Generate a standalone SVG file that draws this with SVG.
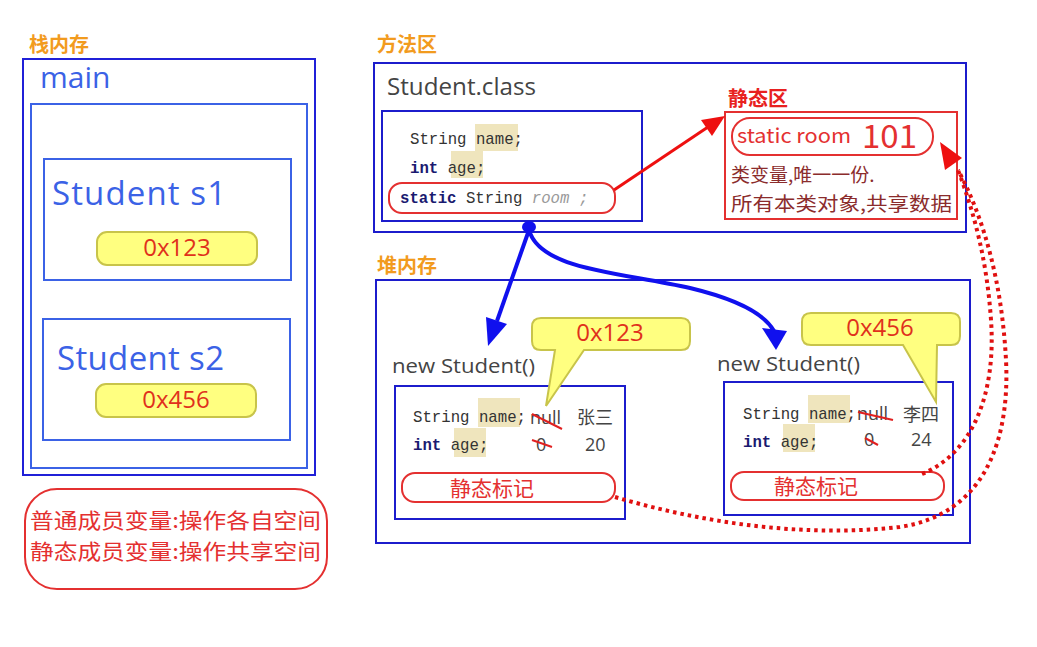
<svg xmlns="http://www.w3.org/2000/svg" width="1037" height="647" viewBox="0 0 1037 647">
<style>
.lbl{font-family:"Noto Sans CJK SC",sans-serif;font-weight:bold;font-size:20px;fill:#f29b1e}
.box{fill:none;stroke:#1c1ccc;stroke-width:2}
.sbox{fill:none;stroke:#3b62e6;stroke-width:2}
.stxt{font-family:"Open Sans","Noto Sans CJK SC",sans-serif;fill:#3b62e6}
.pill{fill:#ffff80;stroke:#c8c44a;stroke-width:2}
.addr{font-family:"Open Sans",sans-serif;font-size:24px;fill:#e0301c;text-anchor:middle}
.code{font-family:"Liberation Mono","DejaVu Sans Mono",monospace;font-size:15.7px;fill:#333}
.kw{font-weight:bold;fill:#1a1a70}
.it{font-style:italic;fill:#999}
.hl{fill:#efe5bd}
.gray{font-family:"Open Sans","Noto Sans CJK SC",sans-serif;fill:#444}
.rpill{fill:none;stroke:#e43030;stroke-width:2}
.rtxt{font-family:"Noto Sans CJK SC",sans-serif;fill:#e43030}
.strike{stroke:#e02020;stroke-width:2}
.dot{fill:none;stroke:#e01010;stroke-width:4;stroke-dasharray:3.5 4}
</style>

<g id="stack">
  <text class="lbl" x="29" y="52">栈内存</text>
  <rect x="23" y="59" width="292" height="416" fill="none" stroke="#2020d8" stroke-width="2"/>
  <text class="stxt" x="40" y="88" font-size="30">main</text>
  <rect class="sbox" x="31" y="104" width="276" height="364"/>
</g>
<g id="s1">
  <rect class="sbox" x="44" y="159" width="247" height="121"/>
  <text class="stxt" x="52" y="205" font-size="33" textLength="174" lengthAdjust="spacing">Student s1</text>
  <rect class="pill" x="97" y="232" width="160" height="33" rx="10"/>
  <text class="addr" x="177" y="256">0x123</text>
</g>
<g id="s2">
  <rect class="sbox" x="43" y="319" width="247" height="121"/>
  <text class="stxt" x="57" y="370" font-size="33" textLength="167" lengthAdjust="spacing">Student s2</text>
  <rect class="pill" x="96" y="384" width="160" height="33" rx="10"/>
  <text class="addr" x="176" y="408">0x456</text>
</g>
<g id="note">
  <rect x="25" y="489" width="302" height="100" rx="32" fill="none" stroke="#e43030" stroke-width="2"/>
  <text class="rtxt" x="30" y="528" font-size="21" textLength="291" lengthAdjust="spacingAndGlyphs">普通成员变量:操作各自空间</text>
  <text class="rtxt" x="30" y="559" font-size="21" textLength="291" lengthAdjust="spacingAndGlyphs">静态成员变量:操作共享空间</text>
</g>

<g id="method-area">
  <text class="lbl" x="377" y="52">方法区</text>
  <rect class="box" x="374" y="63" width="592" height="169"/>
  <text class="gray" x="387" y="95" font-size="23" fill="#333" textLength="149" lengthAdjust="spacingAndGlyphs">Student.class</text>
</g>
<g id="student-class">
  <rect class="box" x="382" y="111" width="260" height="110"/>
  <rect class="hl" x="475" y="124" width="43" height="27"/>
  <rect class="hl" x="451" y="151" width="32" height="27"/>
  <text class="code" x="410" y="144">String name;</text>
  <text class="code" x="410" y="173"><tspan class="kw">int</tspan> age;</text>
  <rect class="rpill" x="389" y="183" width="226" height="30" rx="13"/>
  <text class="code" x="400" y="203"><tspan class="kw">static</tspan> String <tspan class="it">room</tspan> <tspan class="it">;</tspan></text>
</g>
<g id="static-area">
  <text x="728" y="106" font-family="Noto Sans CJK SC,sans-serif" font-weight="bold" font-size="20" fill="#e82020">静态区</text>
  <rect x="725" y="112" width="232" height="107" fill="none" stroke="#e43030" stroke-width="2"/>
  <rect class="rpill" x="732" y="118" width="201" height="37" rx="18"/>
  <text class="rtxt" x="737" y="143" font-family="Open Sans,sans-serif" font-size="20" textLength="114" lengthAdjust="spacingAndGlyphs">static room</text>
  <text class="rtxt" x="862" y="148" font-family="Open Sans,sans-serif" font-size="32" textLength="55" lengthAdjust="spacingAndGlyphs">101</text>
  <text x="731" y="182" font-family="Noto Sans CJK SC,sans-serif" font-size="19" fill="#8b2c2c">类变量,唯一一份.</text>
  <text x="731" y="211" font-family="Noto Sans CJK SC,sans-serif" font-size="19" fill="#8b2c2c" textLength="221" lengthAdjust="spacingAndGlyphs">所有本类对象,共享数据</text>
</g>

<g id="heap">
  <text class="lbl" x="377" y="273">堆内存</text>
  <rect class="box" x="376" y="280" width="594" height="263"/>
</g>
<g id="obj1">
  <text class="gray" x="392" y="373" font-size="20" textLength="143" lengthAdjust="spacingAndGlyphs">new Student()</text>
  <rect class="box" x="395" y="386" width="230" height="133"/>
  <rect class="hl" x="478" y="398" width="42" height="29"/>
  <rect class="hl" x="454" y="428" width="32" height="29"/>
  <text class="code" x="413" y="422">String name;</text>
  <text class="code" x="413" y="450"><tspan class="kw">int</tspan> age;</text>
  <text class="gray" x="530" y="424" font-size="18">null</text>
  <text class="gray" x="577" y="424" font-size="18" font-family="Noto Sans CJK SC,sans-serif">张三</text>
  <text class="gray" x="536" y="451" font-size="18">0</text>
  <text class="gray" x="585" y="451" font-size="18">20</text>
  <line class="strike" x1="532" y1="414" x2="562" y2="429"/>
  <line class="strike" x1="532" y1="440" x2="552" y2="447"/>
  <rect class="rpill" x="402" y="473" width="213" height="29" rx="13"/>
  <text class="rtxt" x="492" y="496" font-size="21" text-anchor="middle">静态标记</text>
  <path class="pill" d="M541,318 H681 Q690,318 690,327 V341 Q690,350 681,350 H584 L546,406 L555,350 H541 Q532,350 532,341 V327 Q532,318 541,318 Z"/>
  <text class="addr" x="610" y="341">0x123</text>
</g>
<g id="obj2">
  <text class="gray" x="717" y="371" font-size="20" textLength="143" lengthAdjust="spacingAndGlyphs">new Student()</text>
  <rect class="box" x="724" y="382" width="229" height="133"/>
  <rect class="hl" x="808" y="395" width="42" height="28"/>
  <rect class="hl" x="783" y="424" width="32" height="28"/>
  <text class="code" x="743" y="419">String name;</text>
  <text class="code" x="743" y="447"><tspan class="kw">int</tspan> age;</text>
  <text class="gray" x="857" y="420" font-size="18">null</text>
  <text class="gray" x="903" y="421" font-size="18" font-family="Noto Sans CJK SC,sans-serif">李四</text>
  <text class="gray" x="864" y="446" font-size="18">0</text>
  <text class="gray" x="911" y="446" font-size="18">24</text>
  <line class="strike" x1="858" y1="412" x2="893" y2="420"/>
  <line class="strike" x1="865" y1="438" x2="878" y2="445"/>
  <rect class="rpill" x="731" y="472" width="213" height="28" rx="13"/>
  <text class="rtxt" x="816" y="494" font-size="21" text-anchor="middle">静态标记</text>
  <path class="pill" d="M811,313 H951 Q960,313 960,322 V336 Q960,345 951,345 H937 L936,402 L903,345 H811 Q802,345 802,336 V322 Q802,313 811,313 Z"/>
  <text class="addr" x="880" y="336">0x456</text>
</g>

<g id="connectors">
  <line x1="614" y1="190" x2="708" y2="127" stroke="#ee1010" stroke-width="3"/>
  <polygon points="725,116 712,136 701,120" fill="#ee1010"/>
  <ellipse cx="529" cy="227" rx="7" ry="6" fill="#1010ee"/>
  <line x1="529" y1="230" x2="497" y2="321" stroke="#1010ee" stroke-width="4"/>
  <polygon points="488,346 507,324 486,317" fill="#1010ee"/>
  <path d="M529,230 C540,270 620,272 690,288 C740,300 765,315 774,331" fill="none" stroke="#1010ee" stroke-width="4"/>
  <polygon points="762,328 787,331 776,350" fill="#1010ee"/>
  <path class="dot" d="M615,497 C700,522 800,538 900,527 C985,514 1010,440 1006,360 C1002,285 985,220 958,170"/>
  <path class="dot" d="M922,474 C975,452 996,390 991,320 C987,262 975,215 958,170"/>
  <polygon points="940,142 962,158 945,170" fill="#ee1010"/>
</g>
</svg>
